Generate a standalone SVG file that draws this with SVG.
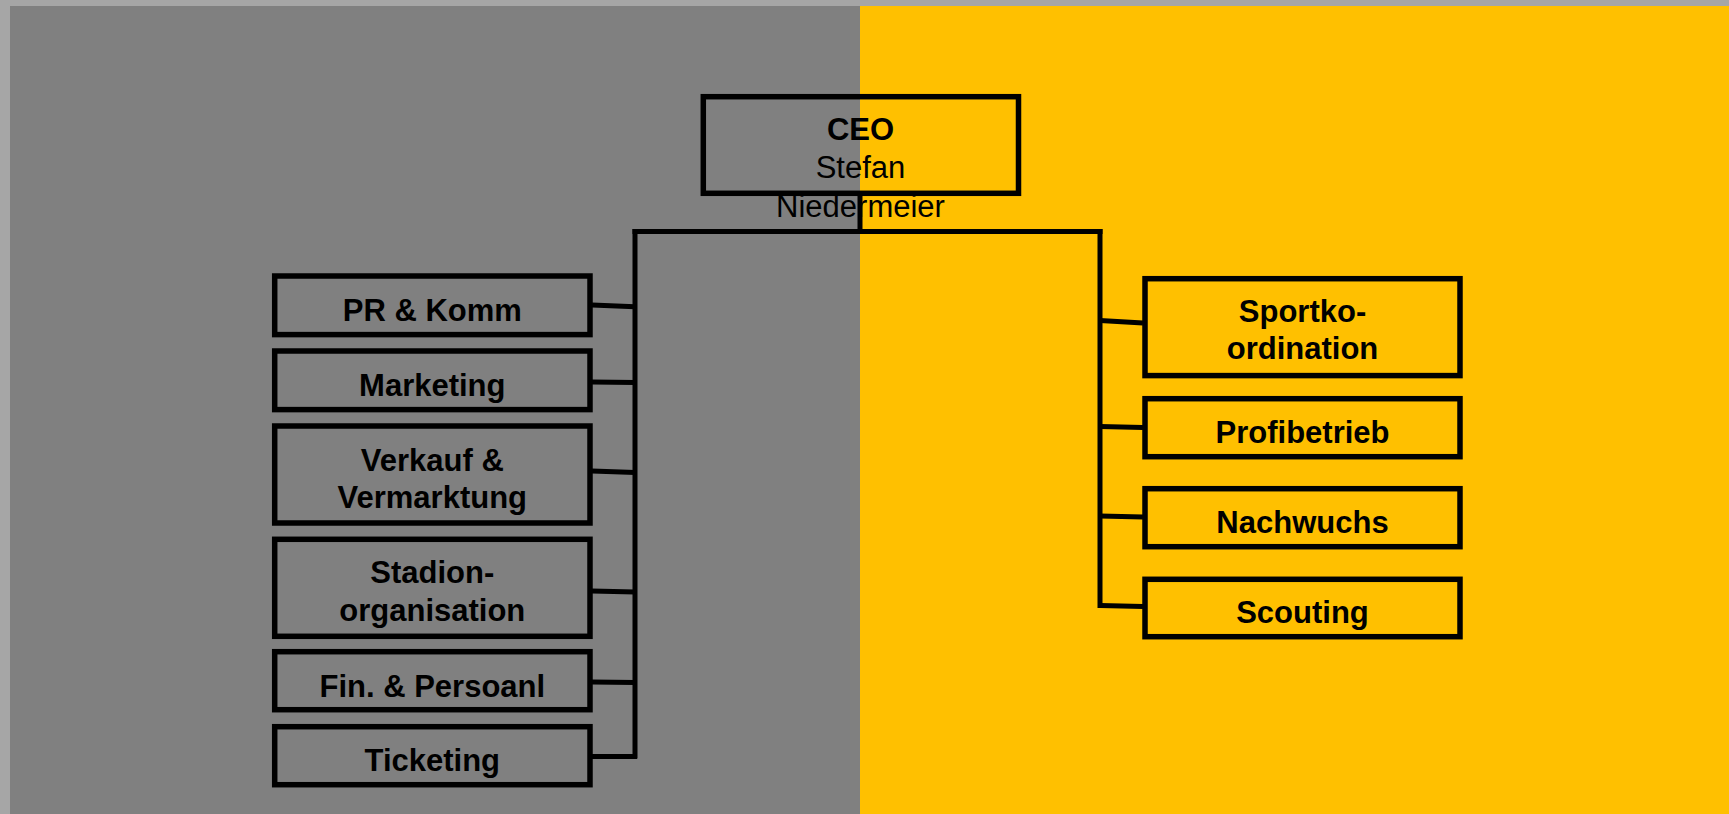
<svg xmlns="http://www.w3.org/2000/svg" width="1729" height="814" viewBox="0 0 1729 814">
<style>
.box{fill:none;stroke:#000;stroke-width:5.5}
.ln{stroke:#000;stroke-width:5;fill:none}
text{font-family:"Liberation Sans",Arial,sans-serif;font-size:31px;fill:#000;text-anchor:middle}
.b{font-weight:bold}
</style>
<rect x="0" y="0" width="1729" height="814" fill="#a6a6a6"/>
<rect x="10" y="6" width="850" height="808" fill="#808080"/>
<rect x="860" y="6" width="869" height="808" fill="#ffc000"/>
<g id="connectors">
<line class="ln" x1="860" y1="193" x2="860" y2="231.5"/>
<line class="ln" x1="632.5" y1="231.5" x2="1102.5" y2="231.5"/>
<line class="ln" x1="635" y1="229" x2="635" y2="758.5"/>
<line class="ln" x1="1100" y1="229" x2="1100" y2="608"/>
<line class="ln" x1="592" y1="305" x2="635" y2="306.7"/>
<line class="ln" x1="592" y1="382" x2="635" y2="382.5"/>
<line class="ln" x1="592" y1="471" x2="635" y2="472.5"/>
<line class="ln" x1="592" y1="591" x2="635" y2="592"/>
<line class="ln" x1="592" y1="682" x2="635" y2="682.5"/>
<line class="ln" x1="592" y1="756.5" x2="637" y2="756.5"/>
<line class="ln" x1="1100" y1="320.5" x2="1143" y2="323"/>
<line class="ln" x1="1100" y1="426.5" x2="1143" y2="427.5"/>
<line class="ln" x1="1100" y1="516" x2="1143" y2="517"/>
<line class="ln" x1="1100" y1="605.5" x2="1143" y2="606.5"/>
</g>
<g id="ceo">
<rect class="box" x="703.3" y="96.7" width="315.2" height="96.6"/>
<text class="b" x="860.5" y="140">CEO</text>
<text x="860.5" y="178.3">Stefan</text>
<text x="860.5" y="216.7">Niedermeier</text>
</g>
<g id="pr">
<rect class="box" x="274.7" y="276" width="315.3" height="58.6"/>
<text class="b" x="432.3" y="320.7">PR &amp; Komm</text>
</g>
<g id="marketing">
<rect class="box" x="274.7" y="351" width="315.3" height="58.6"/>
<text class="b" x="432.3" y="396">Marketing</text>
</g>
<g id="verkauf">
<rect class="box" x="274.7" y="426" width="315.3" height="97"/>
<text class="b" x="432.3" y="470.7">Verkauf &amp;</text>
<text class="b" x="432.3" y="508.3">Vermarktung</text>
</g>
<g id="stadion">
<rect class="box" x="274.7" y="539.3" width="315.3" height="97"/>
<text class="b" x="432.3" y="583.3">Stadion-</text>
<text class="b" x="432.3" y="621">organisation</text>
</g>
<g id="finanzen">
<rect class="box" x="274.7" y="651.7" width="315.3" height="58"/>
<text class="b" x="432.3" y="696.5">Fin. &amp; Persoanl</text>
</g>
<g id="ticketing">
<rect class="box" x="274.7" y="726.7" width="315.3" height="58"/>
<text class="b" x="432.3" y="770.5">Ticketing</text>
</g>
<g id="sportkoordination">
<rect class="box" x="1145" y="278.7" width="315" height="96.9"/>
<text class="b" x="1302.5" y="321.7">Sportko-</text>
<text class="b" x="1302.5" y="359.3">ordination</text>
</g>
<g id="profibetrieb">
<rect class="box" x="1145" y="398.7" width="315" height="58"/>
<text class="b" x="1302.5" y="443">Profibetrieb</text>
</g>
<g id="nachwuchs">
<rect class="box" x="1145" y="488.7" width="315" height="58"/>
<text class="b" x="1302.5" y="533">Nachwuchs</text>
</g>
<g id="scouting">
<rect class="box" x="1145" y="579.3" width="315" height="57.4"/>
<text class="b" x="1302.5" y="623">Scouting</text>
</g>
</svg>
